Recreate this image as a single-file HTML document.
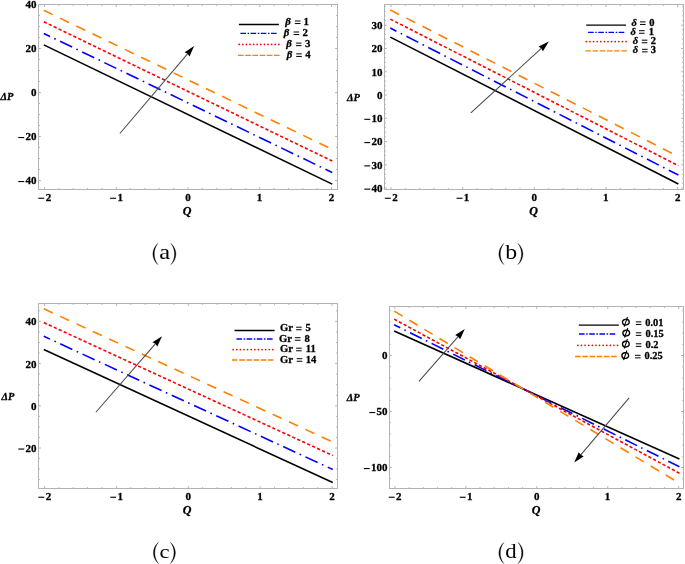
<!DOCTYPE html>
<html><head><meta charset="utf-8"><style>
html,body{margin:0;padding:0;background:#fff;overflow:hidden;}
svg{display:block;will-change:transform;}
.t{font-family:"Liberation Serif", serif;font-weight:bold;fill:#000;stroke:#000;stroke-width:0.3px;}
.c{font-family:"Liberation Serif", serif;fill:#000;}
</style></head><body>
<svg width="685" height="564" viewBox="0 0 685 564">
<rect width="685" height="564" fill="#fff"/>
<g>
<rect x="38.5" y="4.5" width="299" height="185" fill="none" stroke="#b3b3b3" stroke-width="1"/>
<path d="M44.5 189.5v-2.4M44.5 4.5v2.4M58.85 189.5v-1.4M58.85 4.5v1.4M73.2 189.5v-1.4M73.2 4.5v1.4M87.55 189.5v-1.4M87.55 4.5v1.4M101.9 189.5v-1.4M101.9 4.5v1.4M116.25 189.5v-2.4M116.25 4.5v2.4M130.6 189.5v-1.4M130.6 4.5v1.4M144.95 189.5v-1.4M144.95 4.5v1.4M159.3 189.5v-1.4M159.3 4.5v1.4M173.65 189.5v-1.4M173.65 4.5v1.4M188 189.5v-2.4M188 4.5v2.4M202.35 189.5v-1.4M202.35 4.5v1.4M216.7 189.5v-1.4M216.7 4.5v1.4M231.05 189.5v-1.4M231.05 4.5v1.4M245.4 189.5v-1.4M245.4 4.5v1.4M259.75 189.5v-2.4M259.75 4.5v2.4M274.1 189.5v-1.4M274.1 4.5v1.4M288.45 189.5v-1.4M288.45 4.5v1.4M302.8 189.5v-1.4M302.8 4.5v1.4M317.15 189.5v-1.4M317.15 4.5v1.4M331.5 189.5v-2.4M331.5 4.5v2.4M38.5 180.5h2.4M337.5 180.5h-2.4M38.5 169.5h1.4M337.5 169.5h-1.4M38.5 158.5h1.4M337.5 158.5h-1.4M38.5 147.5h1.4M337.5 147.5h-1.4M38.5 136.5h2.4M337.5 136.5h-2.4M38.5 125.5h1.4M337.5 125.5h-1.4M38.5 114.5h1.4M337.5 114.5h-1.4M38.5 103.5h1.4M337.5 103.5h-1.4M38.5 92.5h2.4M337.5 92.5h-2.4M38.5 81.5h1.4M337.5 81.5h-1.4M38.5 70.5h1.4M337.5 70.5h-1.4M38.5 59.5h1.4M337.5 59.5h-1.4M38.5 48.5h2.4M337.5 48.5h-2.4M38.5 37.5h1.4M337.5 37.5h-1.4M38.5 26.5h1.4M337.5 26.5h-1.4M38.5 15.5h1.4M337.5 15.5h-1.4" stroke="#b3b3b3" stroke-width="1" fill="none"/>
<path d="M43.78 44.85L332.22 184.15" stroke="#000000" stroke-width="1.6" fill="none"/>
<path d="M43.78 33.41L332.22 172.49" stroke="#0000ff" stroke-width="1.6" fill="none" stroke-dasharray="13.35 4.75 1.6 4.85" stroke-dashoffset="6.45"/>
<path d="M43.78 21.75L332.22 161.05" stroke="#ff0000" stroke-width="1.6" fill="none" stroke-dasharray="3.3 2.17" stroke-dashoffset="0"/>
<path d="M43.78 10.31L332.22 149.39" stroke="#ff8000" stroke-width="1.6" fill="none" stroke-dasharray="9.9 8.1" stroke-dashoffset="0"/>
<text x="51.14" y="201.1" text-anchor="end" class="t" font-size="11.0">2</text>
<rect x="38.34" y="197.7" width="5.9" height="1.1" fill="#000"/>
<text x="122.93" y="201.1" text-anchor="end" class="t" font-size="11.0">1</text>
<rect x="110.13" y="197.7" width="5.9" height="1.1" fill="#000"/>
<text x="190.75" y="201.1" text-anchor="end" class="t" font-size="11.0">0</text>
<text x="262.34" y="201.1" text-anchor="end" class="t" font-size="11.0">1</text>
<text x="334.26" y="201.1" text-anchor="end" class="t" font-size="11.0">2</text>
<text x="36.62" y="184.4" text-anchor="end" class="t" font-size="11.0">40</text>
<rect x="18.32" y="181" width="5.9" height="1.1" fill="#000"/>
<text x="36.62" y="140.4" text-anchor="end" class="t" font-size="11.0">20</text>
<rect x="18.32" y="137" width="5.9" height="1.1" fill="#000"/>
<text x="36.62" y="96.4" text-anchor="end" class="t" font-size="11.0">0</text>
<text x="36.62" y="52.4" text-anchor="end" class="t" font-size="11.0">20</text>
<text x="36.62" y="8.4" text-anchor="end" class="t" font-size="11.0">40</text>
<path d="M238.9 24.5H278.9" stroke="#000000" stroke-width="1.3" fill="none"/>
<text x="303.44" y="24.9" class="t" font-size="10.8">1</text>
<path d="M294.9 21h5.6M294.9 23.55h5.6" stroke="#000" stroke-width="1.0"/>
<text x="285.13" y="24.9" class="t" font-size="10.8" font-style="italic">β</text>
<path d="M240.4 33.45H277.1" stroke="#0000ff" stroke-width="1.3" fill="none" stroke-dasharray="5.6 1.6 1.5 1.5"/>
<text x="302.55" y="35.9" class="t" font-size="10.8">2</text>
<path d="M293.6 32h5.6M293.6 34.55h5.6" stroke="#000" stroke-width="1.0"/>
<text x="283.73" y="35.9" class="t" font-size="10.8" font-style="italic">β</text>
<path d="M239.15 44.4H278.88" stroke="#ff0000" stroke-width="1.75" stroke-linecap="round" stroke-dasharray="0.01 3.6" fill="none"/>
<text x="304.89" y="47" class="t" font-size="10.8">3</text>
<path d="M295.9 43.1h5.6M295.9 45.65h5.6" stroke="#000" stroke-width="1.0"/>
<text x="286.33" y="47" class="t" font-size="10.8" font-style="italic">β</text>
<path d="M238 55.3H280" stroke="#ff8000" stroke-width="1.3" fill="none" stroke-dasharray="5.6 1.6"/>
<text x="305.35" y="57.8" class="t" font-size="10.8">4</text>
<path d="M296.2 53.9h5.6M296.2 56.45h5.6" stroke="#000" stroke-width="1.0"/>
<text x="286.63" y="57.8" class="t" font-size="10.8" font-style="italic">β</text>
<path d="M119.88 133.48L187.53 53.84" stroke="#4a4a4a" stroke-width="1.05" fill="none"/>
<path d="M194.1 46.1L189.55 56.4L187.53 53.84L184.67 52.26Z" fill="#000"/>
<text x="0.4" y="100.3" class="t" font-size="11.2" font-style="italic" textLength="12.9" lengthAdjust="spacingAndGlyphs">ΔP</text>
<text x="187.1" y="215" text-anchor="middle" class="t" font-size="12" font-style="italic">Q</text>
<path d="M157.8 243.45C151.27 249.5 151.27 258.5 157.8 264.55C153.07 258.5 153.07 249.5 157.8 243.45Z" fill="#000" stroke="#000" stroke-width="0.35" stroke-linejoin="round"/>
<path d="M171 243.45C177.53 249.5 177.53 258.5 171 264.55C175.73 258.5 175.73 249.5 171 243.45Z" fill="#000" stroke="#000" stroke-width="0.35" stroke-linejoin="round"/>
<text transform="translate(159.29 259.45) scale(1.176 1)" class="c" font-size="20.88">a</text>
</g>
<g>
<rect x="384.5" y="4.5" width="299" height="185" fill="none" stroke="#b3b3b3" stroke-width="1"/>
<path d="M391 189.5v-2.4M391 4.5v2.4M405.33 189.5v-1.4M405.33 4.5v1.4M419.67 189.5v-1.4M419.67 4.5v1.4M434 189.5v-1.4M434 4.5v1.4M448.34 189.5v-1.4M448.34 4.5v1.4M462.68 189.5v-2.4M462.68 4.5v2.4M477.01 189.5v-1.4M477.01 4.5v1.4M491.35 189.5v-1.4M491.35 4.5v1.4M505.68 189.5v-1.4M505.68 4.5v1.4M520.01 189.5v-1.4M520.01 4.5v1.4M534.35 189.5v-2.4M534.35 4.5v2.4M548.69 189.5v-1.4M548.69 4.5v1.4M563.02 189.5v-1.4M563.02 4.5v1.4M577.36 189.5v-1.4M577.36 4.5v1.4M591.69 189.5v-1.4M591.69 4.5v1.4M606.03 189.5v-2.4M606.03 4.5v2.4M620.36 189.5v-1.4M620.36 4.5v1.4M634.7 189.5v-1.4M634.7 4.5v1.4M649.03 189.5v-1.4M649.03 4.5v1.4M663.37 189.5v-1.4M663.37 4.5v1.4M677.7 189.5v-2.4M677.7 4.5v2.4M384.5 188.08h2.4M683.5 188.08h-2.4M384.5 183.43h1.4M683.5 183.43h-1.4M384.5 178.77h1.4M683.5 178.77h-1.4M384.5 174.12h1.4M683.5 174.12h-1.4M384.5 169.46h1.4M683.5 169.46h-1.4M384.5 164.81h2.4M683.5 164.81h-2.4M384.5 160.16h1.4M683.5 160.16h-1.4M384.5 155.5h1.4M683.5 155.5h-1.4M384.5 150.85h1.4M683.5 150.85h-1.4M384.5 146.19h1.4M683.5 146.19h-1.4M384.5 141.54h2.4M683.5 141.54h-2.4M384.5 136.89h1.4M683.5 136.89h-1.4M384.5 132.23h1.4M683.5 132.23h-1.4M384.5 127.58h1.4M683.5 127.58h-1.4M384.5 122.92h1.4M683.5 122.92h-1.4M384.5 118.27h2.4M683.5 118.27h-2.4M384.5 113.62h1.4M683.5 113.62h-1.4M384.5 108.96h1.4M683.5 108.96h-1.4M384.5 104.31h1.4M683.5 104.31h-1.4M384.5 99.65h1.4M683.5 99.65h-1.4M384.5 95h2.4M683.5 95h-2.4M384.5 90.35h1.4M683.5 90.35h-1.4M384.5 85.69h1.4M683.5 85.69h-1.4M384.5 81.04h1.4M683.5 81.04h-1.4M384.5 76.38h1.4M683.5 76.38h-1.4M384.5 71.73h2.4M683.5 71.73h-2.4M384.5 67.08h1.4M683.5 67.08h-1.4M384.5 62.42h1.4M683.5 62.42h-1.4M384.5 57.77h1.4M683.5 57.77h-1.4M384.5 53.11h1.4M683.5 53.11h-1.4M384.5 48.46h2.4M683.5 48.46h-2.4M384.5 43.81h1.4M683.5 43.81h-1.4M384.5 39.15h1.4M683.5 39.15h-1.4M384.5 34.5h1.4M683.5 34.5h-1.4M384.5 29.84h1.4M683.5 29.84h-1.4M384.5 25.19h2.4M683.5 25.19h-2.4M384.5 20.54h1.4M683.5 20.54h-1.4M384.5 15.88h1.4M683.5 15.88h-1.4M384.5 11.23h1.4M683.5 11.23h-1.4M384.5 6.57h1.4M683.5 6.57h-1.4" stroke="#b3b3b3" stroke-width="1" fill="none"/>
<path d="M390.29 37.16L678.41 183.95" stroke="#000000" stroke-width="1.6" fill="none"/>
<path d="M390.29 28.08L678.41 175.06" stroke="#0000ff" stroke-width="1.6" fill="none" stroke-dasharray="13.35 4.75 1.6 4.85" stroke-dashoffset="6.45"/>
<path d="M390.29 19.13L678.41 165.64" stroke="#ff0000" stroke-width="1.6" fill="none" stroke-dasharray="3.3 2.17" stroke-dashoffset="0"/>
<path d="M390.29 9.93L678.41 156.56" stroke="#ff8000" stroke-width="1.6" fill="none" stroke-dasharray="9.9 8.1" stroke-dashoffset="0"/>
<text x="397.64" y="201.1" text-anchor="end" class="t" font-size="11.0">2</text>
<rect x="384.84" y="197.7" width="5.9" height="1.1" fill="#000"/>
<text x="469.36" y="201.1" text-anchor="end" class="t" font-size="11.0">1</text>
<rect x="456.56" y="197.7" width="5.9" height="1.1" fill="#000"/>
<text x="537.1" y="201.1" text-anchor="end" class="t" font-size="11.0">0</text>
<text x="608.62" y="201.1" text-anchor="end" class="t" font-size="11.0">1</text>
<text x="680.46" y="201.1" text-anchor="end" class="t" font-size="11.0">2</text>
<text x="382.62" y="191.98" text-anchor="end" class="t" font-size="11.0">40</text>
<rect x="364.32" y="188.58" width="5.9" height="1.1" fill="#000"/>
<text x="382.62" y="168.71" text-anchor="end" class="t" font-size="11.0">30</text>
<rect x="364.32" y="165.31" width="5.9" height="1.1" fill="#000"/>
<text x="382.62" y="145.44" text-anchor="end" class="t" font-size="11.0">20</text>
<rect x="364.32" y="142.04" width="5.9" height="1.1" fill="#000"/>
<text x="382.62" y="122.17" text-anchor="end" class="t" font-size="11.0">10</text>
<rect x="364.32" y="118.77" width="5.9" height="1.1" fill="#000"/>
<text x="382.62" y="98.9" text-anchor="end" class="t" font-size="11.0">0</text>
<text x="382.62" y="75.63" text-anchor="end" class="t" font-size="11.0">10</text>
<text x="382.62" y="52.36" text-anchor="end" class="t" font-size="11.0">20</text>
<text x="382.62" y="29.09" text-anchor="end" class="t" font-size="11.0">30</text>
<path d="M586.2 25.2H626" stroke="#000000" stroke-width="1.3" fill="none"/>
<text x="649.3" y="25.8" class="t" font-size="10.5">0</text>
<path d="M640 21.9h5.6M640 24.45h5.6" stroke="#000" stroke-width="1.0"/>
<text x="631.54" y="25.8" class="t" font-size="10.5" font-style="italic">δ</text>
<path d="M588.1 32.3H624.7" stroke="#0000ff" stroke-width="1.3" fill="none" stroke-dasharray="5.6 1.6 1.5 1.5"/>
<text x="648.86" y="34.6" class="t" font-size="10.5">1</text>
<path d="M639 30.7h5.6M639 33.25h5.6" stroke="#000" stroke-width="1.0"/>
<text x="630.44" y="34.6" class="t" font-size="10.5" font-style="italic">δ</text>
<path d="M586.35 41.6H626.08" stroke="#ff0000" stroke-width="1.75" stroke-linecap="round" stroke-dasharray="0.01 3.6" fill="none"/>
<text x="650.76" y="44.1" class="t" font-size="10.5">2</text>
<path d="M641.8 40.2h5.6M641.8 42.75h5.6" stroke="#000" stroke-width="1.0"/>
<text x="632.64" y="44.1" class="t" font-size="10.5" font-style="italic">δ</text>
<path d="M585.3 50.9H627.2" stroke="#ff8000" stroke-width="1.3" fill="none" stroke-dasharray="5.6 1.6"/>
<text x="650.81" y="53.2" class="t" font-size="10.5">3</text>
<path d="M642 49.3h5.6M642 51.85h5.6" stroke="#000" stroke-width="1.0"/>
<text x="632.84" y="53.2" class="t" font-size="10.5" font-style="italic">δ</text>
<path d="M470.83 112.84L541.31 48.45" stroke="#4a4a4a" stroke-width="1.05" fill="none"/>
<path d="M548.8 41.6L542.99 51.25L541.31 48.45L538.67 46.52Z" fill="#000"/>
<text x="347.1" y="101" class="t" font-size="11.2" font-style="italic" textLength="12.9" lengthAdjust="spacingAndGlyphs">ΔP</text>
<text x="533.7" y="215.3" text-anchor="middle" class="t" font-size="12" font-style="italic">Q</text>
<path d="M503.8 243.45C497.27 249.5 497.27 258.5 503.8 264.55C499.07 258.5 499.07 249.5 503.8 243.45Z" fill="#000" stroke="#000" stroke-width="0.35" stroke-linejoin="round"/>
<path d="M518 243.45C524.53 249.5 524.53 258.5 518 264.55C522.73 258.5 522.73 249.5 518 243.45Z" fill="#000" stroke="#000" stroke-width="0.35" stroke-linejoin="round"/>
<text transform="translate(505.15 259.45) scale(1.140 1)" class="c" font-size="20.9">b</text>
</g>
<g>
<rect x="38.5" y="303.5" width="299" height="185" fill="none" stroke="#b3b3b3" stroke-width="1"/>
<path d="M44.5 488.5v-2.4M44.5 303.5v2.4M58.88 488.5v-1.4M58.88 303.5v1.4M73.25 488.5v-1.4M73.25 303.5v1.4M87.62 488.5v-1.4M87.62 303.5v1.4M102 488.5v-1.4M102 303.5v1.4M116.38 488.5v-2.4M116.38 303.5v2.4M130.75 488.5v-1.4M130.75 303.5v1.4M145.12 488.5v-1.4M145.12 303.5v1.4M159.5 488.5v-1.4M159.5 303.5v1.4M173.88 488.5v-1.4M173.88 303.5v1.4M188.25 488.5v-2.4M188.25 303.5v2.4M202.62 488.5v-1.4M202.62 303.5v1.4M217 488.5v-1.4M217 303.5v1.4M231.38 488.5v-1.4M231.38 303.5v1.4M245.75 488.5v-1.4M245.75 303.5v1.4M260.12 488.5v-2.4M260.12 303.5v2.4M274.5 488.5v-1.4M274.5 303.5v1.4M288.88 488.5v-1.4M288.88 303.5v1.4M303.25 488.5v-1.4M303.25 303.5v1.4M317.62 488.5v-1.4M317.62 303.5v1.4M332 488.5v-2.4M332 303.5v2.4M38.5 479.65h1.4M337.5 479.65h-1.4M38.5 469.1h1.4M337.5 469.1h-1.4M38.5 458.55h1.4M337.5 458.55h-1.4M38.5 448h2.4M337.5 448h-2.4M38.5 437.45h1.4M337.5 437.45h-1.4M38.5 426.9h1.4M337.5 426.9h-1.4M38.5 416.35h1.4M337.5 416.35h-1.4M38.5 405.8h2.4M337.5 405.8h-2.4M38.5 395.25h1.4M337.5 395.25h-1.4M38.5 384.7h1.4M337.5 384.7h-1.4M38.5 374.15h1.4M337.5 374.15h-1.4M38.5 363.6h2.4M337.5 363.6h-2.4M38.5 353.05h1.4M337.5 353.05h-1.4M38.5 342.5h1.4M337.5 342.5h-1.4M38.5 331.95h1.4M337.5 331.95h-1.4M38.5 321.4h2.4M337.5 321.4h-2.4M38.5 310.85h1.4M337.5 310.85h-1.4" stroke="#b3b3b3" stroke-width="1" fill="none"/>
<path d="M43.77 349.55L332.73 482.52" stroke="#000000" stroke-width="1.6" fill="none"/>
<path d="M43.77 336.26L332.73 469.43" stroke="#0000ff" stroke-width="1.6" fill="none" stroke-dasharray="13.35 4.75 1.6 4.85" stroke-dashoffset="6.45"/>
<path d="M43.77 322.54L332.73 455.51" stroke="#ff0000" stroke-width="1.6" fill="none" stroke-dasharray="3.3 2.17" stroke-dashoffset="0"/>
<path d="M43.77 308.83L332.73 442" stroke="#ff8000" stroke-width="1.6" fill="none" stroke-dasharray="9.9 8.1" stroke-dashoffset="0"/>
<text x="51.14" y="500.1" text-anchor="end" class="t" font-size="11.0">2</text>
<rect x="38.34" y="496.7" width="5.9" height="1.1" fill="#000"/>
<text x="123.06" y="500.1" text-anchor="end" class="t" font-size="11.0">1</text>
<rect x="110.26" y="496.7" width="5.9" height="1.1" fill="#000"/>
<text x="191" y="500.1" text-anchor="end" class="t" font-size="11.0">0</text>
<text x="262.72" y="500.1" text-anchor="end" class="t" font-size="11.0">1</text>
<text x="334.76" y="500.1" text-anchor="end" class="t" font-size="11.0">2</text>
<text x="36.62" y="451.9" text-anchor="end" class="t" font-size="11.0">20</text>
<rect x="18.32" y="448.5" width="5.9" height="1.1" fill="#000"/>
<text x="36.62" y="409.7" text-anchor="end" class="t" font-size="11.0">0</text>
<text x="36.62" y="367.5" text-anchor="end" class="t" font-size="11.0">20</text>
<text x="36.62" y="325.3" text-anchor="end" class="t" font-size="11.0">40</text>
<path d="M234.5 330.5H274.6" stroke="#000000" stroke-width="1.3" fill="none"/>
<text x="305.58" y="331.1" class="t" font-size="10.6">5</text>
<path d="M296.1 327.2h5.6M296.1 329.75h5.6" stroke="#000" stroke-width="1.0"/>
<text x="280.08" y="331.1" class="t" font-size="10.6">Gr</text>
<path d="M236.4 339H272.9" stroke="#0000ff" stroke-width="1.3" fill="none" stroke-dasharray="5.6 1.6 1.5 1.5"/>
<text x="304.55" y="341.6" class="t" font-size="10.6">8</text>
<path d="M294.9 337.7h5.6M294.9 340.25h5.6" stroke="#000" stroke-width="1.0"/>
<text x="278.98" y="341.6" class="t" font-size="10.6">Gr</text>
<path d="M233.15 349.5H272.88" stroke="#ff0000" stroke-width="1.75" stroke-linecap="round" stroke-dasharray="0.01 3.6" fill="none"/>
<text x="305.75" y="352.1" class="t" font-size="10.6">11</text>
<path d="M296.1 348.2h5.6M296.1 350.75h5.6" stroke="#000" stroke-width="1.0"/>
<text x="280.08" y="352.1" class="t" font-size="10.6">Gr</text>
<path d="M232 360H274.3" stroke="#ff8000" stroke-width="1.3" fill="none" stroke-dasharray="5.6 1.6"/>
<text x="305.75" y="362.6" class="t" font-size="10.6">14</text>
<path d="M296.7 358.7h5.6M296.7 361.25h5.6" stroke="#000" stroke-width="1.0"/>
<text x="280.08" y="362.6" class="t" font-size="10.6">Gr</text>
<path d="M95.87 412.28L155.34 343.86" stroke="#4a4a4a" stroke-width="1.05" fill="none"/>
<path d="M162 336.2L157.33 346.45L155.34 343.86L152.5 342.25Z" fill="#000"/>
<text x="1.4" y="399.5" class="t" font-size="11.2" font-style="italic" textLength="12.9" lengthAdjust="spacingAndGlyphs">ΔP</text>
<text x="187.1" y="514.3" text-anchor="middle" class="t" font-size="12" font-style="italic">Q</text>
<path d="M158.3 542.35C151.77 548.4 151.77 557.4 158.3 563.45C153.57 557.4 153.57 548.4 158.3 542.35Z" fill="#000" stroke="#000" stroke-width="0.35" stroke-linejoin="round"/>
<path d="M170.5 542.35C177.03 548.4 177.03 557.4 170.5 563.45C175.23 557.4 175.23 548.4 170.5 542.35Z" fill="#000" stroke="#000" stroke-width="0.35" stroke-linejoin="round"/>
<text transform="translate(159.49 558.25) scale(1.161 1)" class="c" font-size="19.52">c</text>
</g>
<g>
<rect x="389.5" y="306.5" width="294" height="182" fill="none" stroke="#b3b3b3" stroke-width="1"/>
<path d="M394.9 488.5v-2.4M394.9 306.5v2.4M409.09 488.5v-1.4M409.09 306.5v1.4M423.28 488.5v-1.4M423.28 306.5v1.4M437.47 488.5v-1.4M437.47 306.5v1.4M451.66 488.5v-1.4M451.66 306.5v1.4M465.85 488.5v-2.4M465.85 306.5v2.4M480.04 488.5v-1.4M480.04 306.5v1.4M494.23 488.5v-1.4M494.23 306.5v1.4M508.42 488.5v-1.4M508.42 306.5v1.4M522.61 488.5v-1.4M522.61 306.5v1.4M536.8 488.5v-2.4M536.8 306.5v2.4M550.99 488.5v-1.4M550.99 306.5v1.4M565.18 488.5v-1.4M565.18 306.5v1.4M579.37 488.5v-1.4M579.37 306.5v1.4M593.56 488.5v-1.4M593.56 306.5v1.4M607.75 488.5v-2.4M607.75 306.5v2.4M621.94 488.5v-1.4M621.94 306.5v1.4M636.13 488.5v-1.4M636.13 306.5v1.4M650.32 488.5v-1.4M650.32 306.5v1.4M664.51 488.5v-1.4M664.51 306.5v1.4M678.7 488.5v-2.4M678.7 306.5v2.4M389.5 478.7h1.4M683.5 478.7h-1.4M389.5 467.5h2.4M683.5 467.5h-2.4M389.5 456.3h1.4M683.5 456.3h-1.4M389.5 445.1h1.4M683.5 445.1h-1.4M389.5 433.9h1.4M683.5 433.9h-1.4M389.5 422.7h1.4M683.5 422.7h-1.4M389.5 411.5h2.4M683.5 411.5h-2.4M389.5 400.3h1.4M683.5 400.3h-1.4M389.5 389.1h1.4M683.5 389.1h-1.4M389.5 377.9h1.4M683.5 377.9h-1.4M389.5 366.7h1.4M683.5 366.7h-1.4M389.5 355.5h2.4M683.5 355.5h-2.4M389.5 344.3h1.4M683.5 344.3h-1.4M389.5 333.1h1.4M683.5 333.1h-1.4M389.5 321.9h1.4M683.5 321.9h-1.4M389.5 310.7h1.4M683.5 310.7h-1.4" stroke="#b3b3b3" stroke-width="1" fill="none"/>
<path d="M394.17 330.98L679.43 459.09" stroke="#000000" stroke-width="1.6" fill="none"/>
<path d="M394.18 324.79L679.42 466.74" stroke="#0000ff" stroke-width="1.6" fill="none" stroke-dasharray="13.07 4.65 1.57 4.75" stroke-dashoffset="6.31"/>
<path d="M394.2 319.17L679.4 473.26" stroke="#ff0000" stroke-width="1.6" fill="none" stroke-dasharray="3.23 2.12" stroke-dashoffset="0"/>
<path d="M394.22 311.18L679.38 483.26" stroke="#ff8000" stroke-width="1.6" fill="none" stroke-dasharray="9.69 7.93" stroke-dashoffset="0"/>
<text x="401.54" y="500.1" text-anchor="end" class="t" font-size="11.0">2</text>
<rect x="388.74" y="496.7" width="5.9" height="1.1" fill="#000"/>
<text x="472.53" y="500.1" text-anchor="end" class="t" font-size="11.0">1</text>
<rect x="459.73" y="496.7" width="5.9" height="1.1" fill="#000"/>
<text x="539.55" y="500.1" text-anchor="end" class="t" font-size="11.0">0</text>
<text x="610.34" y="500.1" text-anchor="end" class="t" font-size="11.0">1</text>
<text x="681.46" y="500.1" text-anchor="end" class="t" font-size="11.0">2</text>
<text x="387.62" y="471.4" text-anchor="end" class="t" font-size="11.0">100</text>
<rect x="363.82" y="468" width="5.9" height="1.1" fill="#000"/>
<text x="387.62" y="415.4" text-anchor="end" class="t" font-size="11.0">50</text>
<rect x="369.32" y="412" width="5.9" height="1.1" fill="#000"/>
<text x="387.62" y="359.4" text-anchor="end" class="t" font-size="11.0">0</text>
<path d="M578.8 325.2H618.9" stroke="#000000" stroke-width="1.3" fill="none"/>
<text x="645.2" y="325.8" class="t" font-size="10.4">0.01</text>
<path d="M635.8 321.9h5.6M635.8 324.45h5.6" stroke="#000" stroke-width="1.0"/>
<ellipse cx="625.85" cy="322.15" rx="3.35" ry="2.85" fill="none" stroke="#000" stroke-width="1.35" transform="rotate(-12 625.85 322.15)"/>
<path d="M627.45 317.15L624.15 326.75" stroke="#000" stroke-width="1.1"/>
<path d="M579 334H616" stroke="#0000ff" stroke-width="1.3" fill="none" stroke-dasharray="5.6 1.6 1.5 1.5"/>
<text x="645.5" y="336.7" class="t" font-size="10.4">0.15</text>
<path d="M635.8 332.8h5.6M635.8 335.35h5.6" stroke="#000" stroke-width="1.0"/>
<ellipse cx="626.25" cy="333.05" rx="3.35" ry="2.85" fill="none" stroke="#000" stroke-width="1.35" transform="rotate(-12 626.25 333.05)"/>
<path d="M627.85 328.05L624.55 337.65" stroke="#000" stroke-width="1.1"/>
<path d="M577.85 345.3H617.58" stroke="#ff0000" stroke-width="1.75" stroke-linecap="round" stroke-dasharray="0.01 3.6" fill="none"/>
<text x="645.5" y="347.7" class="t" font-size="10.4">0.2</text>
<path d="M635.8 343.8h5.6M635.8 346.35h5.6" stroke="#000" stroke-width="1.0"/>
<ellipse cx="625.85" cy="344.05" rx="3.35" ry="2.85" fill="none" stroke="#000" stroke-width="1.35" transform="rotate(-12 625.85 344.05)"/>
<path d="M627.45 339.05L624.15 348.65" stroke="#000" stroke-width="1.1"/>
<path d="M575.1 356.5H617.4" stroke="#ff8000" stroke-width="1.3" fill="none" stroke-dasharray="5.6 1.6"/>
<text x="644.5" y="359.2" class="t" font-size="10.4">0.25</text>
<path d="M635 355.3h5.6M635 357.85h5.6" stroke="#000" stroke-width="1.0"/>
<ellipse cx="625.25" cy="355.55" rx="3.35" ry="2.85" fill="none" stroke="#000" stroke-width="1.35" transform="rotate(-12 625.25 355.55)"/>
<path d="M626.85 350.55L623.55 360.15" stroke="#000" stroke-width="1.1"/>
<path d="M418.97 381.28L458.11 336.63" stroke="#4a4a4a" stroke-width="1.05" fill="none"/>
<path d="M464.8 329L460.09 339.23L458.11 336.63L455.27 335.01Z" fill="#000"/>
<path d="M629.12 397.82L580.77 454.86" stroke="#4a4a4a" stroke-width="1.05" fill="none"/>
<path d="M574.2 462.6L578.74 452.29L580.77 454.86L583.63 456.43Z" fill="#000"/>
<text x="346.8" y="400.5" class="t" font-size="11.2" font-style="italic" textLength="12.9" lengthAdjust="spacingAndGlyphs">ΔP</text>
<text x="536.1" y="513.8" text-anchor="middle" class="t" font-size="12" font-style="italic">Q</text>
<path d="M503.8 542.45C497.27 548.5 497.27 557.5 503.8 563.55C499.07 557.5 499.07 548.5 503.8 542.45Z" fill="#000" stroke="#000" stroke-width="0.35" stroke-linejoin="round"/>
<path d="M518.2 542.45C524.73 548.5 524.73 557.5 518.2 563.55C522.93 557.5 522.93 548.5 518.2 542.45Z" fill="#000" stroke="#000" stroke-width="0.35" stroke-linejoin="round"/>
<text transform="translate(505.13 558.35) scale(1.091 1)" class="c" font-size="20.9">d</text>
</g>
</svg>
</body></html>
